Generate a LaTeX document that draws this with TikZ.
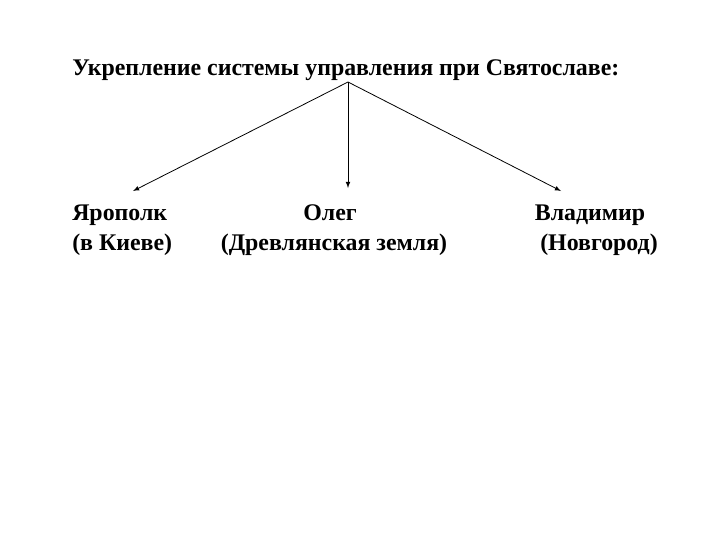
\documentclass[tikz,border=0pt]{standalone}
\usepackage{fontspec}
\setmainfont{Liberation Serif}
\begin{document}
\begin{tikzpicture}[x=0.75pt,y=-0.75pt,
  lbl/.style={font=\bfseries\fontsize{17.9}{21}\selectfont,inner sep=0pt},
  arr/.style={-latex,line width=0.6pt}]
\useasboundingbox (0,0) rectangle (720,540);
\node[lbl,anchor=base west] (t) at (72,75) {Укрепление системы управления при Святославе:};
\coordinate (s) at (348,82);
\node[lbl,anchor=base west] (a1) at (72,220) {Ярополк};
\node[lbl,anchor=base west] (a2) at (72,250) {(в Киеве)};
\node[lbl,anchor=base] (b1) at (330,220) {Олег};
\node[lbl,anchor=base] (b2) at (334,250) {(Древлянская земля)};
\node[lbl,anchor=base] (c1) at (590,220) {Владимир};
\node[lbl,anchor=base] (c2) at (599,250) {(Новгород)};
\coordinate (ea) at (133,191);
\coordinate (eb) at (348,188);
\coordinate (ec) at (561,191);
\draw[arr] (s) -- (ea);
\draw[arr] (s) -- (eb);
\draw[arr] (s) -- (ec);
\end{tikzpicture}
\end{document}
